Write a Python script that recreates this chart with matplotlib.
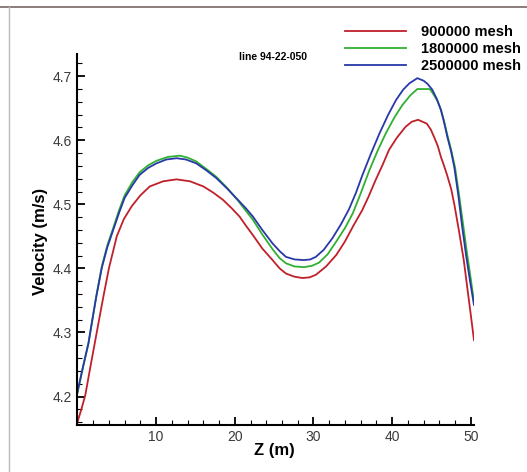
import numpy as np
import matplotlib
matplotlib.use("Agg")
import matplotlib.pyplot as plt
from matplotlib.ticker import MultipleLocator
from matplotlib.lines import Line2D

plt.rcParams['font.family'] = ['Liberation Sans', 'DejaVu Sans']

# velocity along line 94-22-050 for three mesh sizes
z_900k = [0, 0.5, 1.0, 1.6, 2.2, 2.8, 3.3, 4.0, 5.0, 5.9, 6.9, 8.0, 9.2, 10.9, 12.6,
          14.3, 16.0, 17.3, 18.5, 19.6, 20.6, 21.4, 22.3, 23.5, 24.8, 25.7, 26.5, 27.6,
          28.6, 29.5, 30.3, 31.6, 32.9, 34.0, 35.0, 36.2, 37.0, 37.9, 38.8, 39.6, 40.6,
          41.7, 42.5, 43.3, 44.4, 44.9, 45.3, 45.8, 46.2, 46.6, 47.0, 47.5, 47.9, 48.5,
          49.1, 49.6, 50.0, 50.4]
v_900k = [4.160, 4.180, 4.202, 4.243, 4.283, 4.323, 4.356, 4.400, 4.450, 4.477, 4.497,
          4.514, 4.528, 4.536, 4.539, 4.536, 4.528, 4.518, 4.507, 4.494, 4.481, 4.467,
          4.452, 4.431, 4.413, 4.400, 4.392, 4.387, 4.385, 4.386, 4.390, 4.403, 4.421,
          4.442, 4.465, 4.491, 4.512, 4.538, 4.562, 4.585, 4.604, 4.621, 4.629, 4.632,
          4.626, 4.617, 4.606, 4.591, 4.574, 4.560, 4.545, 4.524, 4.500, 4.458, 4.413,
          4.365, 4.327, 4.288]

z_1800k = [0, 0.7, 1.4, 1.9, 2.4, 3.1, 3.8, 4.55, 5.3, 6.0, 7.0, 7.9, 9.0, 10.05, 11.5,
           13.0, 14.0, 15.1, 16.4, 17.65, 19.0, 20.4, 21.4, 22.3, 23.5, 24.8, 25.7, 26.5,
           27.6, 28.8, 29.8, 30.7, 31.8, 32.9, 34.0, 35.0, 36.0, 37.1, 38.2, 39.2, 40.3,
           41.3, 42.3, 43.2, 44.8, 45.4, 45.8, 46.2, 46.6, 47.0, 47.5, 48.0, 48.5, 49.0,
           49.5, 50.0, 50.4]
v_1800k = [4.205, 4.245, 4.283, 4.320, 4.357, 4.403, 4.436, 4.463, 4.491, 4.514, 4.535,
           4.550, 4.561, 4.568, 4.574, 4.576, 4.573, 4.567, 4.555, 4.543, 4.526, 4.506,
           4.490, 4.476, 4.453, 4.430, 4.416, 4.408, 4.403, 4.402, 4.404, 4.409, 4.422,
           4.442, 4.463, 4.486, 4.517, 4.553, 4.585, 4.611, 4.636, 4.655, 4.670, 4.680,
           4.680, 4.669, 4.660, 4.648, 4.630, 4.609, 4.585, 4.557, 4.515, 4.470, 4.425,
           4.383, 4.348]

z_2500k = [0, 0.7, 1.4, 1.9, 2.4, 3.1, 3.8, 4.55, 5.3, 6.0, 7.0, 7.9, 9.0, 10.05, 11.3,
           12.6, 13.8, 15.1, 16.4, 17.65, 19.0, 20.4, 21.4, 22.3, 23.5, 24.8, 25.7, 26.5,
           27.6, 28.8, 29.6, 30.3, 31.3, 32.4, 33.5, 34.5, 35.4, 36.2, 37.3, 38.4, 39.5,
           40.5, 41.4, 42.2, 43.2, 44.0, 44.5, 45.1, 45.7, 46.2, 46.6, 47.0, 47.5, 47.9,
           48.4, 48.9, 49.4, 49.9, 50.4]
v_2500k = [4.207, 4.246, 4.283, 4.320, 4.356, 4.401, 4.433, 4.460, 4.487, 4.510, 4.530,
           4.546, 4.557, 4.564, 4.570, 4.572, 4.570, 4.564, 4.553, 4.541, 4.525, 4.507,
           4.494, 4.481, 4.460, 4.439, 4.427, 4.418, 4.414, 4.413, 4.414, 4.418, 4.429,
           4.447, 4.469, 4.492, 4.518, 4.545, 4.579, 4.611, 4.640, 4.663, 4.679, 4.689,
           4.697, 4.693, 4.688, 4.679, 4.664, 4.647, 4.628, 4.606, 4.582, 4.558, 4.515,
           4.465, 4.420, 4.380, 4.343]

series = [
    ("900000 mesh", z_900k, v_900k, "#c0202a"),
    ("1800000 mesh", z_1800k, v_1800k, "#30b030"),
    ("2500000 mesh", z_2500k, v_2500k, "#2838a8"),
]

fig = plt.figure(figsize=(5.27, 4.72), dpi=100)
ax = fig.add_axes([0.1469, 0.1002, 0.7525, 0.7858])

for label, z, v, c in series:
    ax.plot(z, v, color=c, lw=1.3, label=label)

ax.set_xlim(0, 50.4)
ax.set_ylim(4.156, 4.735)

ax.xaxis.set_major_locator(MultipleLocator(10))
ax.xaxis.set_minor_locator(MultipleLocator(2))
ax.yaxis.set_major_locator(MultipleLocator(0.1))
ax.yaxis.set_minor_locator(MultipleLocator(0.02))
ax.set_xticks([10, 20, 30, 40, 50])

for s in ['top', 'right']:
    ax.spines[s].set_visible(False)
for s in ['left', 'bottom']:
    ax.spines[s].set_linewidth(1.5)

ax.tick_params(which='major', direction='in', length=6, width=1.3,
               labelsize=10, labelcolor='#3a3a3a', pad=4)
ax.tick_params(which='minor', direction='in', length=3.5, width=0.8)

ax.set_xlabel("Z (m)", fontsize=12, fontweight='bold')
ax.set_ylabel("Velocity (m/s)", fontsize=12, fontweight='bold')
ax.xaxis.set_label_coords(0.497, -0.049)
ax.yaxis.set_label_coords(-0.074, 0.495)

fig.text(239 / 527, 1 - 56.5 / 472, "line 94-22-050", fontsize=7.5,
         fontweight='bold', va='center', ha='left')

fig.legend(loc='upper left', bbox_to_anchor=(0.655, 0.947), frameon=False,
           prop={'weight': 'bold', 'size': 10.5}, handlelength=4.2,
           handletextpad=1.0, labelspacing=0.2, borderpad=0, borderaxespad=0)

# thin frame around the figure like the original screenshot
fig.add_artist(Line2D([0, 1], [1 - 6.5 / 472] * 2, color='#7a6666', lw=1.2,
                      transform=fig.transFigure))
fig.add_artist(Line2D([9 / 527] * 2, [0, 1 - 6.5 / 472], color='#bbbbbb', lw=1.0,
                      transform=fig.transFigure))

fig.savefig("out.png", dpi=100)
